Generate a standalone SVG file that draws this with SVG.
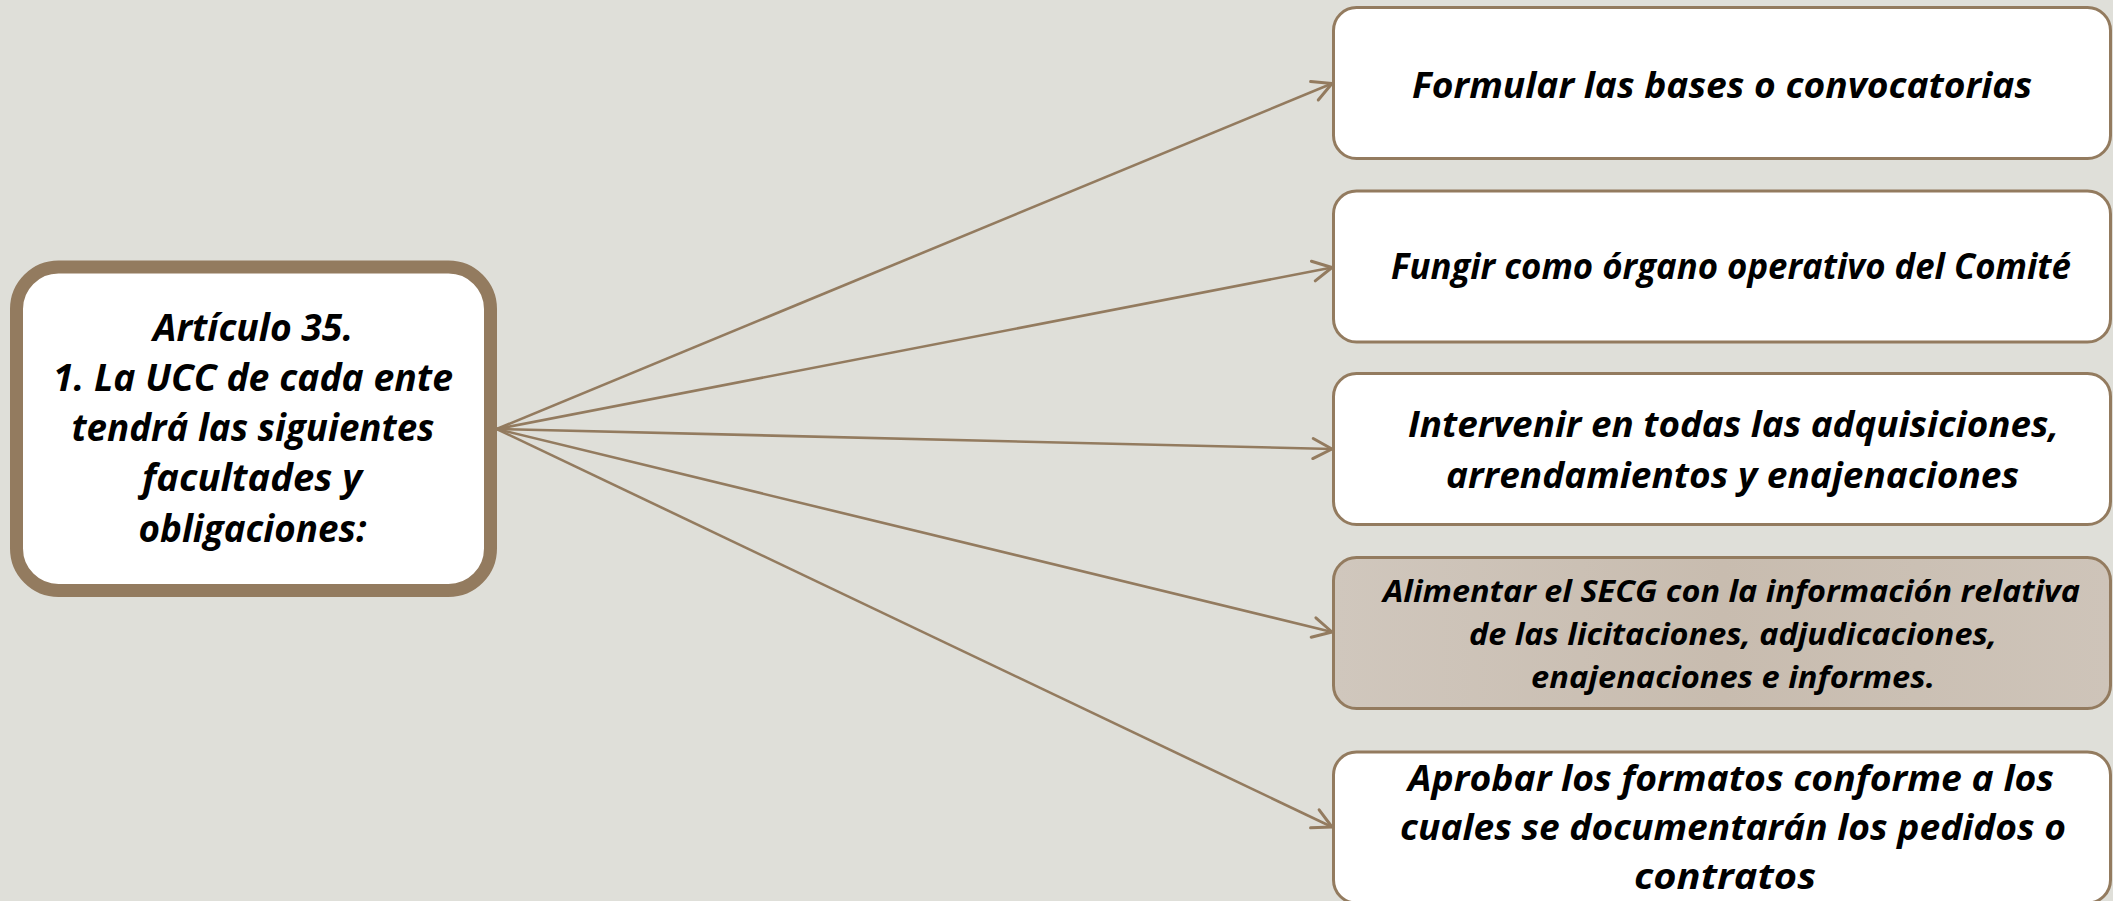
<svg xmlns="http://www.w3.org/2000/svg" width="2113" height="901" viewBox="0 0 2113 901">
  <defs>
    <style>
      .bg { fill: #DFDFD9; }
      .main { fill: #FFFFFF; stroke: #937B5F; stroke-width: 13; }
      .box { fill: #FFFFFF; stroke: #937B5F; stroke-width: 3; }
      .box.hl { fill: url(#tan); }
      .conn { stroke: #937B5F; stroke-width: 2.6; fill: none; marker-end: url(#arr); }
      .t { font-family: "Open Sans", Lato, "Liberation Sans", sans-serif; font-weight: bold; font-style: italic; fill: #000000; }
      .tm { font-size: 37.5px; }
      .tr { font-size: 35px; }
      .ts { font-size: 31px; }
    </style>
    <linearGradient id="tan" x1="0" y1="0" x2="1" y2="0">
      <stop offset="0" stop-color="#D0C7BD"/>
      <stop offset="0.5" stop-color="#C8BCAF"/>
      <stop offset="1" stop-color="#CEC4B9"/>
    </linearGradient>
    <marker id="arr" markerUnits="userSpaceOnUse" viewBox="-24 -14 28 28" refX="0" refY="0" markerWidth="28" markerHeight="28" orient="auto">
      <path d="M -19 -10 L 0 0 L -19 10" fill="none" stroke="#937B5F" stroke-width="3" stroke-linecap="round" stroke-linejoin="round"/>
    </marker>
  </defs>

  <rect class="bg" x="0" y="0" width="2113" height="901"/>

  <g id="connectors">
    <line class="conn" x1="496.7" y1="429" x2="1332" y2="83.5"/>
    <line class="conn" x1="496.7" y1="429" x2="1332" y2="267.5"/>
    <line class="conn" x1="496.7" y1="429" x2="1332" y2="449"/>
    <line class="conn" x1="496.7" y1="429" x2="1332" y2="632"/>
    <line class="conn" x1="496.7" y1="429" x2="1332" y2="827"/>
  </g>

  <g id="node-articulo">
    <rect class="main" x="16.5" y="267" width="474" height="323.5" rx="42" ry="42"/>
    <text class="t tm" x="253" y="341" text-anchor="middle" textLength="200" lengthAdjust="spacingAndGlyphs">Artículo 35.</text>
    <text class="t tm" x="253" y="391" text-anchor="middle" textLength="400" lengthAdjust="spacingAndGlyphs">1. La UCC de cada ente</text>
    <text class="t tm" x="253" y="441" text-anchor="middle" textLength="363" lengthAdjust="spacingAndGlyphs">tendrá las siguientes</text>
    <text class="t tm" x="252" y="491" text-anchor="middle" textLength="220" lengthAdjust="spacingAndGlyphs">facultades y</text>
    <text class="t tm" x="252.5" y="542" text-anchor="middle" textLength="228" lengthAdjust="spacingAndGlyphs">obligaciones:</text>
  </g>

  <g id="node-formular">
    <rect class="box" x="1333.5" y="7.5" width="777" height="151" rx="23" ry="23"/>
    <text class="t tr" x="1412" y="97.5" textLength="620" lengthAdjust="spacingAndGlyphs">Formular las bases o convocatorias</text>
  </g>

  <g id="node-fungir">
    <rect class="box" x="1333.5" y="191" width="777" height="151" rx="23" ry="23"/>
    <text class="t tr" x="1391" y="279" textLength="680" lengthAdjust="spacingAndGlyphs">Fungir como órgano operativo del Comité</text>
  </g>

  <g id="node-intervenir">
    <rect class="box" x="1333.5" y="373.5" width="777" height="151" rx="23" ry="23"/>
    <text class="t tr" x="1408" y="437" textLength="651" lengthAdjust="spacingAndGlyphs">Intervenir en todas las adquisiciones,</text>
    <text class="t tr" x="1446" y="488" textLength="573" lengthAdjust="spacingAndGlyphs">arrendamientos y enajenaciones</text>
  </g>

  <g id="node-alimentar">
    <rect class="box hl" x="1333.5" y="557.5" width="777" height="151" rx="23" ry="23"/>
    <text class="t ts" x="1383" y="601.5" textLength="697" lengthAdjust="spacingAndGlyphs">Alimentar el SECG con la información relativa</text>
    <text class="t ts" x="1469" y="645" textLength="528" lengthAdjust="spacingAndGlyphs">de las licitaciones, adjudicaciones,</text>
    <text class="t ts" x="1531" y="688" textLength="404" lengthAdjust="spacingAndGlyphs">enajenaciones e informes.</text>
  </g>

  <g id="node-aprobar">
    <rect class="box" x="1333.5" y="752" width="777" height="151" rx="23" ry="23"/>
    <text class="t tr" x="1408" y="790.5" textLength="646" lengthAdjust="spacingAndGlyphs">Aprobar los formatos conforme a los</text>
    <text class="t tr" x="1400" y="840" textLength="666" lengthAdjust="spacingAndGlyphs">cuales se documentarán los pedidos o</text>
    <text class="t tr" x="1634" y="889" textLength="182" lengthAdjust="spacingAndGlyphs">contratos</text>
  </g>
</svg>
